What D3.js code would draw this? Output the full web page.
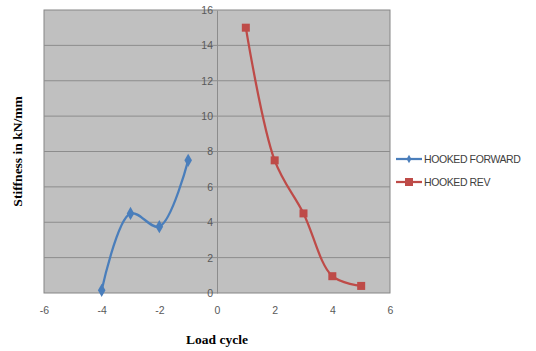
<!DOCTYPE html>
<html><head><meta charset="utf-8">
<script src="https://cdn.jsdelivr.net/npm/d3@7"></script>
<style>body{margin:0;background:#fff}svg{display:block}</style>
</head><body>
<script>
const fwdX = [-4, -3, -2, -1];
const fwdY = [0.15, 4.5, 3.75, 7.5];
const revX = [1, 2, 3, 4, 5];
const revY = [15, 7.5, 4.5, 0.95, 0.4];
const xTicks = [-6, -4, -2, 0, 2, 4, 6];
const yTicks = [0, 2, 4, 6, 8, 10, 12, 14, 16];
const seriesNames = ["HOOKED FORWARD", "HOOKED REV"];
const colors = ["#4a7ebb", "#be4b48"];

const W = 536, H = 351;
const m = {l: 44, r: 146, t: 10, b: 58};
const svg = d3.select("body").append("svg").attr("width", W).attr("height", H);
const x = d3.scaleLinear().domain([-6, 6]).range([m.l, W - m.r]);
const y = d3.scaleLinear().domain([0, 16]).range([H - m.b, m.t]);

svg.append("rect").attr("x", x(-6)).attr("y", y(16)).attr("width", x(6) - x(-6)).attr("height", y(0) - y(16))
  .attr("fill", "#c0c0c0").attr("stroke", "#868686").attr("stroke-width", 1);

svg.append("g").selectAll("line").data(yTicks.filter(d => d > 0 && d < 16)).join("line")
  .attr("x1", x(-6)).attr("x2", x(6)).attr("y1", d => y(d)).attr("y2", d => y(d))
  .attr("stroke", "#8c8c8c").attr("stroke-width", 1);

const fmt = d => String(d);
const yAxis = svg.append("g").attr("transform", `translate(${x(0)},0)`)
  .call(d3.axisLeft(y).tickValues(yTicks).tickFormat(fmt).tickSize(0).tickPadding(4));
yAxis.select(".domain").attr("stroke", "#8c8c8c");
yAxis.selectAll("text").attr("fill", "#595959").style("font-family", "Liberation Sans, Arial").style("font-size", "10.5px");

const xAxis = svg.append("g").attr("transform", `translate(0,${y(0)})`)
  .call(d3.axisBottom(x).tickValues(xTicks).tickFormat(fmt).tickSize(0).tickPadding(14));
xAxis.select(".domain").remove();
xAxis.selectAll("text").attr("fill", "#595959").style("font-family", "Liberation Sans, Arial").style("font-size", "10.5px");

const line = d3.line().x(d => x(d[0])).y(d => y(d[1])).curve(d3.curveCatmullRom.alpha(0.5));
const fwd = fwdX.map((v, i) => [v, fwdY[i]]);
const rev = revX.map((v, i) => [v, revY[i]]);

svg.append("path").datum(fwd).attr("d", line).attr("fill", "none").attr("stroke", colors[0]).attr("stroke-width", 2.25);
svg.append("path").datum(rev).attr("d", line).attr("fill", "none").attr("stroke", colors[1]).attr("stroke-width", 2.25);

const diamond = d3.symbol().type(d3.symbolDiamond).size(50);
svg.append("g").selectAll("path").data(fwd).join("path")
  .attr("transform", d => `translate(${x(d[0])},${y(d[1])})`).attr("d", diamond).attr("fill", colors[0]);
svg.append("g").selectAll("rect").data(rev).join("rect")
  .attr("x", d => x(d[0]) - 4).attr("y", d => y(d[1]) - 4).attr("width", 8).attr("height", 8).attr("fill", colors[1]);

const lg = svg.append("g");
seriesNames.forEach((n, i) => {
  const ly = 159 + i * 23;
  lg.append("line").attr("x1", 396).attr("x2", 422).attr("y1", ly).attr("y2", ly).attr("stroke", colors[i]).attr("stroke-width", 2.25);
  if (i === 0) lg.append("path").attr("transform", `translate(409,${ly})`).attr("d", d3.symbol().type(d3.symbolDiamond).size(20)).attr("fill", colors[0]);
  else lg.append("rect").attr("x", 405).attr("y", ly - 4).attr("width", 8).attr("height", 8).attr("fill", colors[1]);
  lg.append("text").attr("x", 424).attr("y", ly + 3.5).text(n).attr("fill", "#404040")
    .style("font-family", "Liberation Sans, Arial").style("font-size", "10.5px").style("letter-spacing", "-0.4px");
});

svg.append("text").attr("transform", `translate(22,${(y(0) + y(16)) / 2}) rotate(-90)`).attr("text-anchor", "middle")
  .text("Stiffness in kN/mm").style("font-family", "Liberation Serif, Times New Roman").style("font-weight", "bold").style("font-size", "13.5px");
svg.append("text").attr("x", x(0)).attr("y", 344).attr("text-anchor", "middle")
  .text("Load cycle").style("font-family", "Liberation Serif, Times New Roman").style("font-weight", "bold").style("font-size", "13.5px");
</script>
</body></html>
